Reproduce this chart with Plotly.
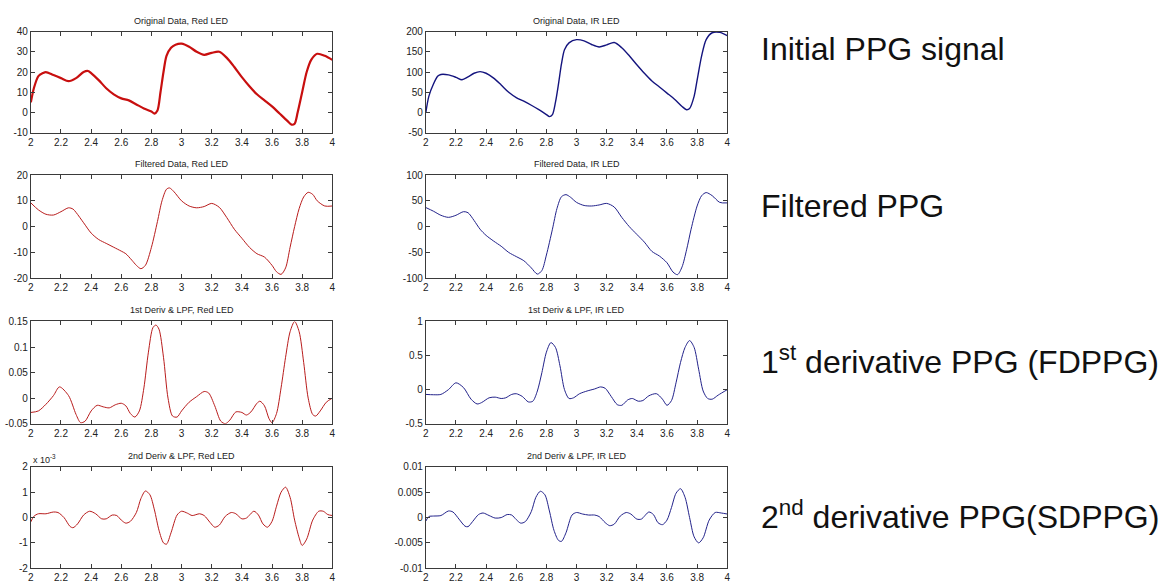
import plotly.graph_objects as go

# ---------------- data ----------------
X_TICKS = [2, 2.2, 2.4, 2.6, 2.8, 3, 3.2, 3.4, 3.6, 3.8, 4]
X_TICKTEXT = ["2", "2.2", "2.4", "2.6", "2.8", "3", "3.2", "3.4", "3.6", "3.8", "4"]

orig_red_x = [2.0, 2.02, 2.05, 2.08, 2.1, 2.15, 2.2, 2.25, 2.3, 2.35, 2.38, 2.4, 2.45, 2.5, 2.55,
              2.6, 2.65, 2.7, 2.75, 2.8, 2.82, 2.84, 2.86, 2.88, 2.9, 2.93, 2.96, 3.0, 3.05, 3.1,
              3.15, 3.2, 3.25, 3.3, 3.35, 3.4, 3.45, 3.5, 3.55, 3.6, 3.65, 3.7, 3.73, 3.75, 3.77,
              3.8, 3.83, 3.86, 3.9, 3.95, 4.0]
orig_red_y = [5, 12, 18, 19.5, 20, 18.5, 17, 15.5, 17, 20, 20.5, 19.5, 16, 12, 9,
              7, 6, 4, 2, 0.5, -0.5, 1, 10, 20, 28, 32, 33.5, 34, 32.5, 30,
              28.5, 29.5, 30, 27, 22.5, 17.5, 13, 9, 6, 3, -0.5, -4, -6, -5.5, 0,
              10, 20, 26, 29, 28, 26]

orig_ir_x = [2.0, 2.02, 2.05, 2.08, 2.1, 2.15, 2.2, 2.24, 2.28, 2.32, 2.36, 2.4, 2.45, 2.5, 2.55,
             2.6, 2.65, 2.7, 2.75, 2.8, 2.82, 2.84, 2.86, 2.88, 2.9, 2.92, 2.95, 3.0, 3.05, 3.1,
             3.15, 3.2, 3.25, 3.3, 3.35, 3.4, 3.45, 3.5, 3.55, 3.6, 3.65, 3.7, 3.73, 3.75, 3.78,
             3.8, 3.83, 3.86, 3.9, 3.95, 4.0]
orig_ir_y = [0, 40, 70, 90, 94, 93, 87, 81, 88, 97, 101, 97, 85, 68, 50,
             37, 28, 18, 7, -5, -10, -5, 25, 70, 120, 155, 172, 180, 177, 168,
             162, 167, 173, 160, 140, 118, 97, 78, 63, 48, 33, 15, 7, 10, 40,
             80, 140, 180, 197, 198, 190]

filt_red_x = [2.0, 2.05, 2.1, 2.15, 2.2, 2.25, 2.28, 2.3, 2.35, 2.4, 2.45, 2.5, 2.55, 2.6, 2.63,
              2.67, 2.7, 2.73, 2.76, 2.8, 2.84, 2.87, 2.9, 2.92, 2.95, 3.0, 3.05, 3.1, 3.15, 3.2,
              3.25, 3.3, 3.35, 3.4, 3.45, 3.5, 3.55, 3.6, 3.63, 3.66, 3.69, 3.72, 3.75, 3.78, 3.81,
              3.84, 3.87, 3.9, 3.95, 4.0]
filt_red_y = [9.2, 6.5, 4.8, 4.5, 5.8, 7.3, 6.8, 5.5, 1.5, -2.5, -5, -6.5, -8, -9.5, -10.5,
              -13, -15, -16.3, -15, -8, 2, 10, 14.5, 15, 13.5, 10, 8, 7.3, 7.8, 9,
              7.5, 3.5, -1, -4.5, -8, -10.5, -11.8, -15, -17.5, -18.5, -16, -8, 0, 7, 11.5,
              13.3, 12.5, 10, 8, 8]

filt_ir_x = [2.0, 2.05, 2.1, 2.15, 2.2, 2.25, 2.28, 2.32, 2.36, 2.4, 2.45, 2.5, 2.55, 2.6, 2.65,
             2.7, 2.74, 2.77, 2.8, 2.84, 2.87, 2.9, 2.93, 2.96, 3.0, 3.05, 3.1, 3.15, 3.2, 3.25,
             3.3, 3.35, 3.4, 3.45, 3.5, 3.55, 3.6, 3.64, 3.67, 3.7, 3.73, 3.76, 3.8, 3.83, 3.86,
             3.9, 3.95, 4.0]
filt_ir_y = [37, 30, 22, 18, 22, 29, 27, 12, -5, -17, -28, -38, -50, -58, -66,
             -80, -92, -85, -55, -5, 35, 58, 62, 57, 47, 41, 40, 42, 45, 38,
             18, 0, -15, -30, -48, -57, -70, -88, -93, -78, -45, -5, 40, 60, 66,
             60, 47, 46]

d1_red_x = [2.0, 2.05, 2.1, 2.15, 2.19, 2.25, 2.3, 2.33, 2.36, 2.4, 2.44, 2.48, 2.52, 2.56, 2.6,
            2.63, 2.66, 2.69, 2.72, 2.75, 2.78, 2.81, 2.83, 2.85, 2.88, 2.91, 2.94, 2.97, 3.0, 3.05,
            3.1, 3.15, 3.18, 3.22, 3.26, 3.29, 3.32, 3.36, 3.4, 3.43, 3.46, 3.5, 3.52, 3.55, 3.58,
            3.6, 3.63, 3.66, 3.69, 3.72, 3.75, 3.78, 3.81, 3.84, 3.87, 3.89, 3.92, 3.96, 4.0]
d1_red_y = [-0.028, -0.025, -0.012, 0.005, 0.022, 0.005, -0.032, -0.048, -0.045, -0.025, -0.014, -0.017, -0.019, -0.013, -0.01,
            -0.015, -0.03, -0.037, -0.025, 0.02, 0.09, 0.138, 0.143, 0.135, 0.08, 0.0, -0.035, -0.037, -0.025, -0.008,
            0.003, 0.013, 0.01, -0.015, -0.045, -0.05, -0.043, -0.027, -0.028, -0.033, -0.027, -0.01, -0.006, -0.015, -0.04,
            -0.048, -0.03, 0.02, 0.08, 0.13, 0.15, 0.13, 0.07, 0.0, -0.032, -0.035, -0.025, -0.008, 0.0]

d1_ir_x = [2.0, 2.05, 2.1, 2.15, 2.2, 2.25, 2.3, 2.34, 2.37, 2.42, 2.46, 2.5, 2.53, 2.57, 2.6,
           2.64, 2.68, 2.71, 2.74, 2.77, 2.8, 2.83, 2.86, 2.89, 2.92, 2.95, 2.98, 3.02, 3.07, 3.12,
           3.16, 3.19, 3.23, 3.27, 3.3, 3.34, 3.37, 3.41, 3.44, 3.48, 3.53, 3.57, 3.6, 3.63, 3.66,
           3.69, 3.72, 3.75, 3.78, 3.81, 3.84, 3.87, 3.9, 3.94, 4.0]
d1_ir_y = [-0.07, -0.075, -0.07, 0.0, 0.1, 0.03, -0.14, -0.21, -0.19, -0.12, -0.11, -0.13, -0.12, -0.07, -0.06,
           -0.1, -0.18, -0.17, -0.02, 0.25, 0.55, 0.69, 0.62, 0.35, 0.0, -0.13, -0.12, -0.06, -0.02, 0.01,
           0.04, 0.02, -0.1, -0.22, -0.23, -0.15, -0.13, -0.17, -0.16, -0.09, -0.06, -0.14, -0.23, -0.16, 0.1,
           0.4, 0.62, 0.72, 0.62, 0.3, -0.02, -0.13, -0.14, -0.08, 0.0]

d2_red_x = [2.0, 2.02, 2.05, 2.1, 2.15, 2.18, 2.22, 2.26, 2.28, 2.31, 2.35, 2.39, 2.43, 2.47, 2.5,
            2.54, 2.57, 2.6, 2.63, 2.66, 2.7, 2.73, 2.76, 2.79, 2.82, 2.85, 2.88, 2.9, 2.93, 2.97,
            3.0, 3.04, 3.07, 3.12, 3.15, 3.19, 3.22, 3.25, 3.29, 3.33, 3.36, 3.4, 3.43, 3.48, 3.51,
            3.54, 3.57, 3.6, 3.63, 3.66, 3.69, 3.72, 3.75, 3.78, 3.8, 3.83, 3.87, 3.91, 3.94, 3.97, 4.0]
d2_red_y = [-0.17e-3, 0.05e-3, 0.15e-3, 0.15e-3, 0.22e-3, 0.2e-3, 0.0, -0.35e-3, -0.4e-3, -0.25e-3,
            0.1e-3, 0.25e-3, 0.15e-3, -0.05e-3, -0.05e-3, 0.1e-3, 0.08e-3, -0.1e-3, -0.22e-3, -0.15e-3,
            0.2e-3, 0.75e-3, 1.05e-3, 0.9e-3, 0.3e-3, -0.5e-3, -1.0e-3, -1.05e-3, -0.6e-3, 0.1e-3,
            0.25e-3, 0.17e-3, 0.08e-3, 0.15e-3, 0.08e-3, -0.2e-3, -0.38e-3, -0.3e-3, 0.05e-3, 0.2e-3,
            0.15e-3, -0.05e-3, -0.02e-3, 0.25e-3, 0.1e-3, -0.25e-3, -0.38e-3, -0.15e-3, 0.45e-3, 1.0e-3,
            1.2e-3, 0.8e-3, -0.1e-3, -0.8e-3, -1.1e-3, -0.85e-3, -0.1e-3, 0.25e-3, 0.25e-3, 0.12e-3, 0.08e-3]

d2_ir_x = [2.0, 2.02, 2.05, 2.1, 2.15, 2.18, 2.22, 2.26, 2.28, 2.31, 2.35, 2.38, 2.42, 2.46, 2.5,
           2.54, 2.57, 2.6, 2.63, 2.66, 2.7, 2.73, 2.76, 2.79, 2.82, 2.85, 2.88, 2.9, 2.93, 2.97,
           3.0, 3.04, 3.08, 3.12, 3.15, 3.19, 3.22, 3.25, 3.29, 3.33, 3.36, 3.4, 3.43, 3.48, 3.51,
           3.54, 3.57, 3.6, 3.63, 3.66, 3.69, 3.72, 3.75, 3.78, 3.81, 3.84, 3.88, 3.92, 3.96, 4.0]
d2_ir_y = [-0.0007, 0.0002, 0.0003, 0.0004, 0.0013, 0.0011, -0.0003, -0.0017, -0.0018, -0.0008,
           0.0006, 0.0009, 0.0004, -0.0001, 0.0, 0.0006, 0.0005, -0.0004, -0.0011, -0.0008,
           0.0012, 0.0040, 0.0052, 0.0045, 0.0013, -0.0025, -0.0045, -0.0047, -0.0030, 0.0005,
           0.0010, 0.0007, 0.0005, 0.0005, 0.0002, -0.0010, -0.0016, -0.0013, 0.0003, 0.0010,
           0.0007, -0.0003, -0.0003, 0.0011, 0.0006, -0.0010, -0.0014, -0.0005, 0.0020, 0.0048,
           0.0057, 0.0040, 0.0, -0.0038, -0.0050, -0.0040, -0.0005, 0.0010, 0.0009, 0.0007]

titles = ["Original Data, Red LED", "Original Data, IR LED",
          "Filtered Data, Red LED", "Filtered Data, IR LED",
          "1st Deriv & LPF, Red LED", "1st Deriv & LPF, IR LED",
          "2nd Deriv & LPF, Red LED", "2nd Deriv & LPF, IR LED"]

y_ranges = [[-10, 40], [-50, 200], [-20, 20], [-100, 100],
            [-0.05, 0.15], [-0.5, 1], [-0.002, 0.002], [-0.01, 0.01]]
y_tickvals = [[-10, 0, 10, 20, 30, 40], [-50, 0, 50, 100, 150, 200],
              [-20, -10, 0, 10, 20], [-100, -50, 0, 50, 100],
              [-0.05, 0, 0.05, 0.1, 0.15], [-0.5, 0, 0.5, 1],
              [-0.002, -0.001, 0, 0.001, 0.002], [-0.01, -0.005, 0, 0.005, 0.01]]
y_ticktext = [["-10", "0", "10", "20", "30", "40"], ["-50", "0", "50", "100", "150", "200"],
              ["-20", "-10", "0", "10", "20"], ["-100", "-50", "0", "50", "100"],
              ["-0.05", "0", "0.05", "0.1", "0.15"], ["-0.5", "0", "0.5", "1"],
              ["-2", "-1", "0", "1", "2"], ["-0.01", "-0.005", "0", "0.005", "0.01"]]

side_labels = ["Initial PPG signal", "Filtered PPG",
               "1<sup>st</sup> derivative PPG (FDPPG)", "2<sup>nd</sup> derivative PPG(SDPPG)"]

# ---------------- styling / layout ----------------
W, H = 1171, 584
RED = "#c80f0f"
RED_THIN = "#b81c1c"
BLUE = "#14147e"
BLUE_THIN = "#22228a"
AX = "#3a3a3a"
FONT = "Liberation Sans, Arial, sans-serif"

COLS = [(28, 331), (425, 728)]
ROWS = [(27, 130), (173, 278), (322, 426), (470, 573)]

series = [(orig_red_x, orig_red_y, RED, 2.2), (orig_ir_x, orig_ir_y, BLUE, 1.4),
          (filt_red_x, filt_red_y, RED_THIN, 1.0), (filt_ir_x, filt_ir_y, BLUE_THIN, 1.0),
          (d1_red_x, d1_red_y, RED_THIN, 1.0), (d1_ir_x, d1_ir_y, BLUE_THIN, 1.0),
          (d2_red_x, d2_red_y, RED_THIN, 1.0), (d2_ir_x, d2_ir_y, BLUE_THIN, 1.0)]

fig = go.Figure()
annotations = []
layout = dict(width=W, height=H, margin=dict(l=0, r=0, t=0, b=0),
              paper_bgcolor="white", plot_bgcolor="white", showlegend=False,
              font=dict(family=FONT, color="#222"))

for i, (sx, sy, col, lw) in enumerate(series):
    r, c = divmod(i, 2)
    n = i + 1
    xa = "x" if n == 1 else f"x{n}"
    ya = "y" if n == 1 else f"y{n}"
    fig.add_trace(go.Scatter(x=sx, y=sy, mode="lines", xaxis=xa, yaxis=ya,
                             line=dict(color=col, width=lw, shape="spline", smoothing=0.8),
                             hoverinfo="skip"))
    x0, x1 = COLS[c]
    top, bot = ROWS[r]
    xd = [x0 / W, x1 / W]
    yd = [1 - bot / H, 1 - top / H]
    common = dict(showline=True, mirror="ticks", linecolor=AX, linewidth=1,
                  ticks="inside", ticklen=4, tickcolor=AX, tickwidth=1,
                  showgrid=False, zeroline=False, tickfont=dict(size=10, color="#222"))
    layout["xaxis" if n == 1 else f"xaxis{n}"] = dict(
        domain=xd, range=[2, 4], anchor=ya, tickmode="array",
        tickvals=X_TICKS, ticktext=X_TICKTEXT, **common)
    layout["yaxis" if n == 1 else f"yaxis{n}"] = dict(
        domain=yd, range=y_ranges[i], anchor=xa, tickmode="array",
        tickvals=y_tickvals[i], ticktext=y_ticktext[i], **common)
    annotations.append(dict(text=titles[i], xref="paper", yref="paper",
                            x=(xd[0] + xd[1]) / 2, y=yd[1], xanchor="center", yanchor="bottom",
                            yshift=4, showarrow=False, font=dict(size=9, color="#222")))
    if i == 6:
        annotations.append(dict(text="x 10<sup>-3</sup>", xref="paper", yref="paper",
                                x=xd[0], y=yd[1], xanchor="left", yanchor="bottom",
                                yshift=0, showarrow=False, font=dict(size=9, color="#222")))

label_centers = [45, 204, 361, 519]
for txt, cy in zip(side_labels, label_centers):
    annotations.append(dict(text=txt, xref="paper", yref="paper", x=760 / W, y=1 - cy / H,
                            xanchor="left", yanchor="middle", showarrow=False,
                            font=dict(size=32, color="#111", family=FONT)))

layout["annotations"] = annotations
fig.update_layout(**layout)
fig.write_html("out.html")
